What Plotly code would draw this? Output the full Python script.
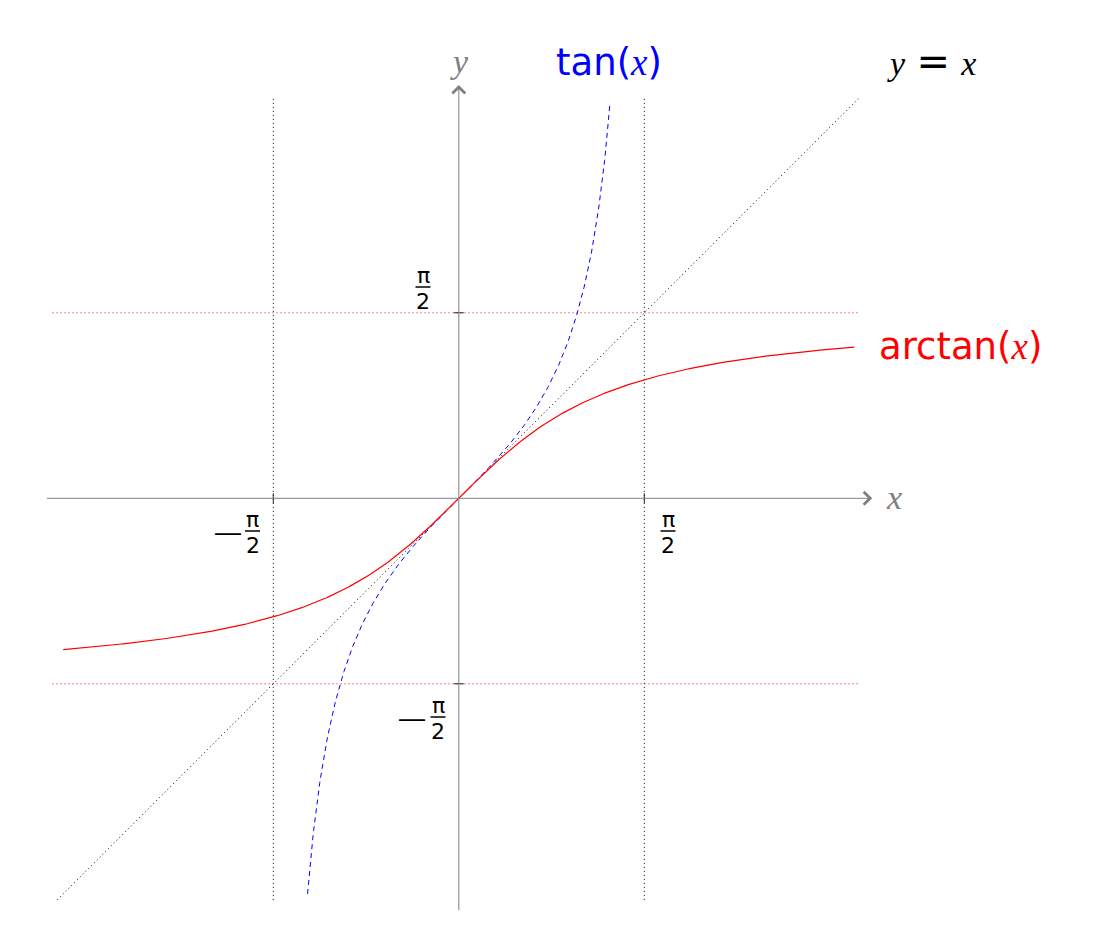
import numpy as np
import plotly.graph_objects as go

# ---------------- data ----------------
ARCTAN_X_MAX = 3.35          # arctan drawn on [-3.35, 3.35]
TAN_Y_MAX = 3.35             # tan drawn while |tan(x)| <= 3.35
IDENTITY_X = [-3.4, 3.4]     # y = x
GRID_EXTENT = 3.4            # dotted guide lines at +/- pi/2
AXIS_EXTENT = 3.5
TICKS = [-np.pi / 2, np.pi / 2]

arctan_x = np.linspace(-ARCTAN_X_MAX, ARCTAN_X_MAX, 500)
arctan_y = np.arctan(arctan_x)
tan_x = np.linspace(-np.arctan(TAN_Y_MAX), np.arctan(TAN_Y_MAX), 500)
tan_y = np.tan(tan_x)

# ---------------- geometry ----------------
W, H = 1110, 931
OX, OY, S = 458.8, 498.3, 118.1   # pixel origin and pixels per unit


def dx(px):
    return (px - OX) / S


def dy(py):
    return (OY - py) / S


GRAY = "#808080"
SANS = "DejaVu Sans"
SERIF = "Liberation Serif"

fig = go.Figure()

# guide lines
for t in TICKS:
    fig.add_shape(type="line", x0=t, x1=t, y0=-GRID_EXTENT, y1=GRID_EXTENT,
                  line=dict(color="black", width=1, dash="1px,3px"), layer="below")
    fig.add_shape(type="line", x0=-GRID_EXTENT - 0.04, x1=GRID_EXTENT, y0=t, y1=t,
                  line=dict(color="red", width=1, dash="1px,3px"), layer="below")

# y = x
fig.add_trace(go.Scatter(x=IDENTITY_X, y=IDENTITY_X, mode="lines",
                         line=dict(color="black", width=1, dash="1px,3px"),
                         hoverinfo="skip"))
# tan
fig.add_trace(go.Scatter(x=tan_x, y=tan_y, mode="lines",
                         line=dict(color="blue", width=1, dash="5px,4px"),
                         hoverinfo="skip"))
# arctan
fig.add_trace(go.Scatter(x=arctan_x, y=arctan_y, mode="lines",
                         line=dict(color="red", width=1.2),
                         hoverinfo="skip"))

# axes with arrows
fig.add_annotation(x=AXIS_EXTENT, y=0, ax=-AXIS_EXTENT, ay=0, xref="x", yref="y",
                   axref="x", ayref="y", showarrow=True, arrowhead=4, arrowsize=2.5,
                   arrowwidth=1, arrowcolor=GRAY, text="")
fig.add_annotation(x=0, y=AXIS_EXTENT, ax=0, ay=-AXIS_EXTENT, xref="x", yref="y",
                   axref="x", ayref="y", showarrow=True, arrowhead=4, arrowsize=2.5,
                   arrowwidth=1, arrowcolor=GRAY, text="")

# tick marks
tk = 5 / S
for t in TICKS:
    fig.add_shape(type="line", x0=t, x1=t, y0=-tk, y1=tk, line=dict(color="#222", width=1))
    fig.add_shape(type="line", x0=-tk, x1=tk, y0=t, y1=t, line=dict(color="#222", width=1))


def label(px, py, text, size, color="black", family=SANS):
    fig.add_annotation(x=dx(px), y=dy(py), xref="x", yref="y", text=text,
                       showarrow=False, xanchor="center", yanchor="middle",
                       font=dict(size=size, color=color, family=family))


def fraction(cx, cy, minus_x=None):
    label(cx, cy - 12, "π", 22)
    label(cx, cy + 14, "2", 22)
    fig.add_shape(type="line", x0=dx(cx - 7.5), x1=dx(cx + 7.5), y0=dy(cy), y1=dy(cy),
                  line=dict(color="black", width=1.5))
    if minus_x is not None:
        label(minus_x, cy + 0.5, "—", 26, family="Liberation Sans")


fraction(252.5, 531, minus_x=227.5)
fraction(668, 531)
fraction(423, 287)
fraction(438, 717, minus_x=412)

xi = '<span style="font-family:Liberation Serif"><i>x</i></span>'
label(459, 61, "<i>y</i>", 34, GRAY, SERIF)
label(894, 497, "<i>x</i>", 34, GRAY, SERIF)
label(609, 62, "tan(" + xi + ")", 37, "blue")
label(960, 346, "arctan(" + xi + ")", 37, "red")
label(931, 61, '<i>y</i>&#8196;<span style="font-family:DejaVu Sans;font-size:40px">=</span>&#8196;<i>x</i>', 34,
      "black", SERIF)

fig.update_layout(
    width=W, height=H,
    margin=dict(l=0, r=0, t=0, b=0),
    xaxis=dict(range=[dx(0), dx(W)], visible=False, fixedrange=True),
    yaxis=dict(range=[dy(H), dy(0)], visible=False, fixedrange=True),
    plot_bgcolor="white", paper_bgcolor="white",
    showlegend=False,
)

fig.write_html("out.html", config={"displayModeBar": False},
               post_script="document.body.style.margin='0px';")
